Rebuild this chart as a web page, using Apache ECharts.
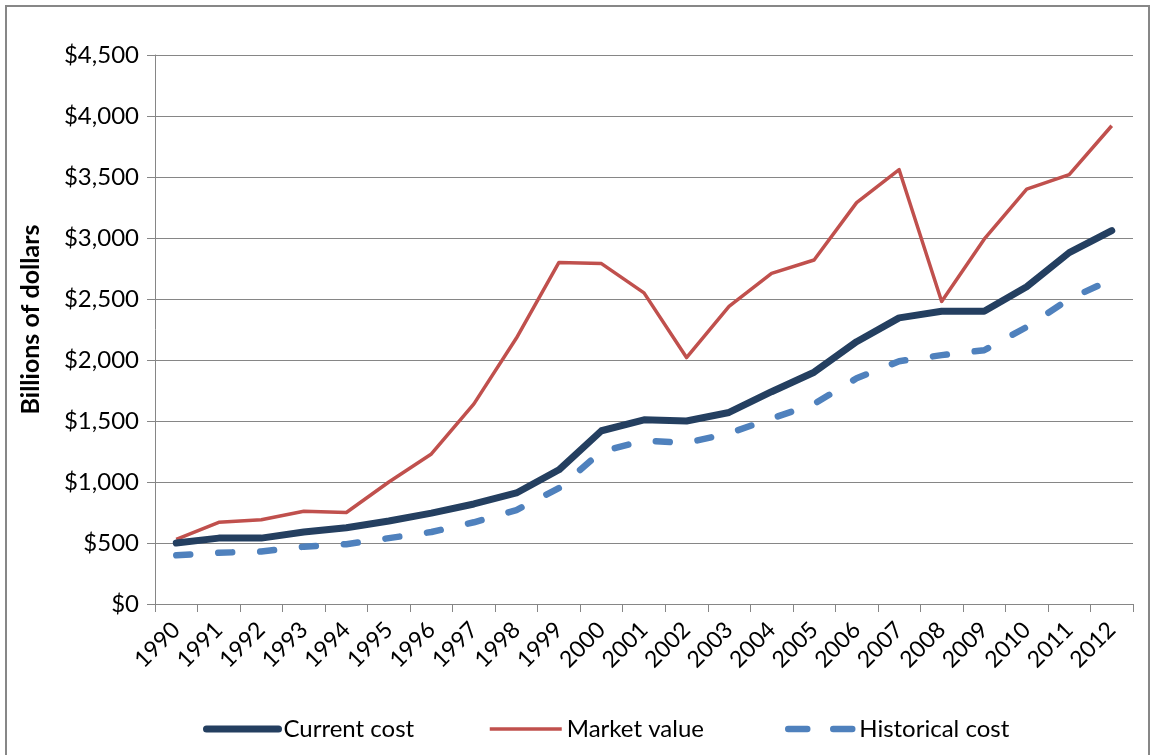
<!DOCTYPE html>
<html>
<head>
<meta charset="utf-8">
<script src="https://cdn.jsdelivr.net/npm/echarts@6/dist/echarts.min.js"></script>
<style>
  html, body { margin: 0; padding: 0; background: #fff; }
  #chart { width: 1152px; height: 755px; }
</style>
</head>
<body>
<div id="chart"></div>
<script>
  const years = ['1990', '1991', '1992', '1993', '1994', '1995', '1996', '1997', '1998', '1999', '2000',
    '2001', '2002', '2003', '2004', '2005', '2006', '2007', '2008', '2009', '2010', '2011', '2012']
  const currentCost = [500, 540, 540, 590, 625, 680, 745, 820, 910, 1100, 1420,
    1510, 1500, 1570, 1740, 1900, 2150, 2345, 2400, 2400, 2600, 2880, 3060]
  const marketValue = [530, 670, 690, 760, 750, 1000, 1230, 1640, 2180, 2800, 2790,
    2550, 2020, 2440, 2710, 2820, 3290, 3560, 2480, 2990, 3400, 3520, 3920]
  const historicalCost = [400, 420, 430, 470, 490, 540, 590, 670, 770, 950, 1250,
    1340, 1320, 1400, 1520, 1640, 1850, 1990, 2040, 2080, 2270, 2500, 2660]

  const font = 'Lato, "Open Sans", sans-serif'
  const chart = echarts.init(document.getElementById('chart'))

  // one legend per entry so the spacing can follow the original
  const legendBase = {
    top: 712,
    itemHeight: 8,
    itemStyle: { opacity: 0 },
    textStyle: { fontSize: 24, color: '#000', fontFamily: font },
  }

  const option = {
    backgroundColor: '#fff',
    animation: false,
    textStyle: { fontFamily: font },
    graphic: [{
      type: 'rect',
      shape: { x: 6, y: 6, width: 1143, height: 800 },
      style: { fill: 'none', stroke: '#878787', lineWidth: 2 },
      silent: true,
    }],
    grid: { left: 155, right: 19, top: 55, bottom: 151 },
    legend: [
      Object.assign({}, legendBase, {
        left: 198,
        itemWidth: 72,
        data: [{ name: 'Current cost', lineStyle: { width: 7, cap: 'round' } }],
      }),
      Object.assign({}, legendBase, {
        left: 483,
        itemWidth: 72,
        data: [{ name: 'Market value', lineStyle: { width: 3.5 } }],
      }),
      Object.assign({}, legendBase, {
        left: 780,
        itemWidth: 66,
        data: [{ name: 'Historical cost', lineStyle: { width: 6.5, type: [19, 26], cap: 'round' } }],
      }),
    ],
    xAxis: {
      type: 'category',
      data: years,
      boundaryGap: true,
      axisLine: { lineStyle: { color: '#868686', width: 1 } },
      axisTick: { show: true, alignWithLabel: false, length: 8, lineStyle: { color: '#868686' } },
      axisLabel: { rotate: 45, fontSize: 23, color: '#000', margin: 22, interval: 0, fontFamily: font },
    },
    yAxis: {
      type: 'value',
      min: 0,
      max: 4500,
      interval: 500,
      name: 'Billions of dollars',
      nameLocation: 'middle',
      nameGap: 112,
      nameTextStyle: {
        fontSize: 25,
        fontWeight: 'bold',
        color: '#000',
        fontFamily: font,
        padding: [0, 0, 0, 20],
      },
      axisLine: { show: true, lineStyle: { color: '#868686' } },
      axisTick: { show: true, length: 8, lineStyle: { color: '#868686' } },
      axisLabel: {
        fontSize: 24,
        color: '#000',
        margin: 16,
        fontFamily: font,
        formatter: v => '$' + v.toLocaleString('en-US'),
      },
      splitLine: { lineStyle: { color: '#868686', width: 1 } },
    },
    series: [
      {
        name: 'Current cost',
        type: 'line',
        data: currentCost,
        showSymbol: false,
        symbol: 'none',
        color: '#243f60',
        lineStyle: { color: '#243f60', width: 7, cap: 'round', join: 'round' },
        z: 3,
      },
      {
        name: 'Market value',
        type: 'line',
        data: marketValue,
        showSymbol: false,
        symbol: 'none',
        color: '#c0504d',
        lineStyle: { color: '#c0504d', width: 3.5, join: 'round' },
        z: 2,
      },
      {
        name: 'Historical cost',
        type: 'line',
        data: historicalCost,
        showSymbol: false,
        symbol: 'none',
        color: '#4f81bd',
        lineStyle: { color: '#4f81bd', width: 6.5, type: [14, 28], cap: 'round' },
        z: 1,
      },
    ],
  }
  chart.setOption(option)
</script>
</body>
</html>
